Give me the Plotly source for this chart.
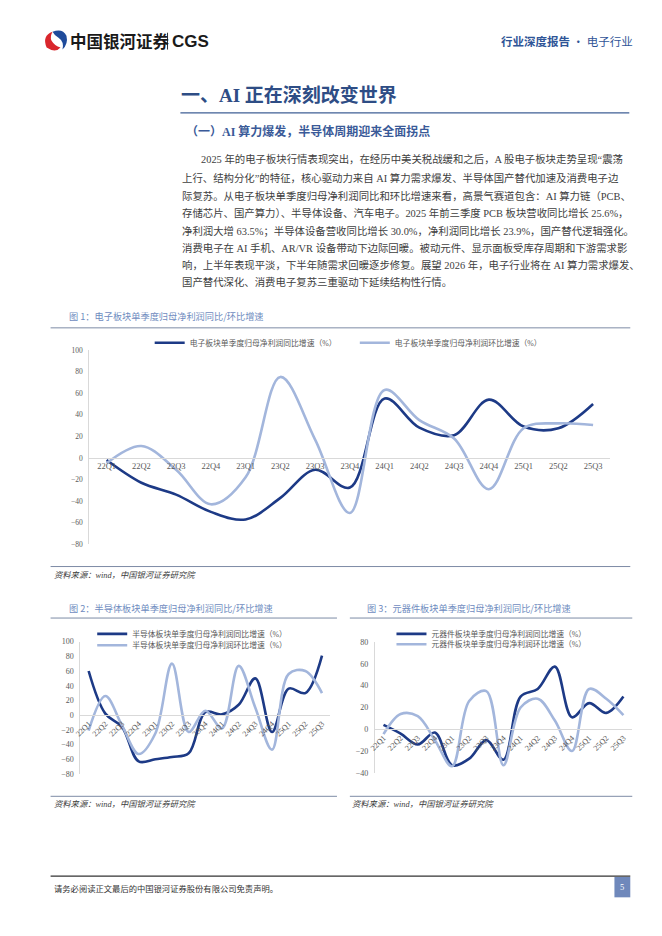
import plotly.graph_objects as go

W, H = 662, 936


def fx(x):
    return x / W


def fy(y):
    return 1 - y / H


quarters = ["22Q1", "22Q2", "22Q3", "22Q4", "23Q1", "23Q2", "23Q3", "23Q4",
            "24Q1", "24Q2", "24Q3", "24Q4", "25Q1", "25Q2", "25Q3"]

elec_yoy = [-2, -23, -34, -50, -57, -37, -11, -27.5, 55, 28, 21, 54, 29, 27.5, 50]
elec_qoq = [-5, 11, -11, -43, -18, 75, 17, -51, 63, 35, 18, -29, 27.5, 32, 30.5]
semi_yoy = [60, 2, -16, -63, -60, -57, -52, 4, 1, 14, 50, -23, 36, 30, 81]
semi_qoq = [-21, 26, -14, -53, -25, 70, -23, 6, -18, 67, 10, -47, 56, 60, 30]
comp_yoy = [4, -4, -14, -3, -33, -27, -10, -28, 30, 37, 57.5, 11, 24, 15, 30]
comp_qoq = [-4.5, 14, 12, -10, -34, 26, 35, -33, 20, 28, 8, -20, 37, 28, 13]

names1 = ["电子板块单季度归母净利润同比增速（%）", "电子板块单季度归母净利润环比增速（%）"]
names2 = ["半导体板块单季度归母净利润同比增速（%）", "半导体板块单季度归母净利润环比增速（%）"]
names3 = ["元器件板块单季度归母净利润同比增速（%）", "元器件板块单季度归母净利润环比增速（%）"]

para = [
    "2025 年的电子板块行情表现突出，在经历中美关税战缓和之后，A 股电子板块走势呈现“震荡",
    "上行、结构分化”的特征，核心驱动力来自 AI 算力需求爆发、半导体国产替代加速及消费电子边",
    "际复苏。从电子板块单季度归母净利润同比和环比增速来看，高景气赛道包含：AI 算力链（PCB、",
    "存储芯片、国产算力）、半导体设备、汽车电子。2025 年前三季度 PCB 板块营收同比增长 25.6%，",
    "净利润大增 63.5%；半导体设备营收同比增长 30.0%，净利润同比增长 23.9%，国产替代逻辑强化。",
    "消费电子在 AI 手机、AR/VR 设备带动下边际回暖。被动元件、显示面板受库存周期和下游需求影",
    "响，上半年表现平淡，下半年随需求回暖逐步修复。展望 2026 年，电子行业将在 AI 算力需求爆发、",
    "国产替代深化、消费电子复苏三重驱动下延续结构性行情。",
]

DARK = "#1d3a86"
LIGHT = "#a3b6dc"
SERIF = "Liberation Serif, Noto Sans CJK SC"
CJK = "Noto Sans CJK SC"
TICK = "#595959"

fig = go.Figure()

series = [
    (elec_yoy, elec_qoq, names1, "x", "y", "legend", "legend4"),
    (semi_yoy, semi_qoq, names2, "x2", "y2", "legend2", "legend5"),
    (comp_yoy, comp_qoq, names3, "x3", "y3", "legend3", "legend6"),
]
for yoy, qoq, nm, xa, ya, lg_a, lg_b in series:
    fig.add_trace(go.Scatter(x=quarters, y=yoy, name=nm[0], mode="lines",
                             line=dict(color=DARK, width=2.6, shape="spline", smoothing=1),
                             xaxis=xa, yaxis=ya, legend=lg_a))
    fig.add_trace(go.Scatter(x=quarters, y=qoq, name=nm[1], mode="lines",
                             line=dict(color=LIGHT, width=2.6, shape="spline", smoothing=1),
                             xaxis=xa, yaxis=ya, legend=lg_b))

# axis geometry (pixels)
charts = [
    # x0, x1, zero_py, px_per_unit, ymin, ymax, dtick, tickangle, xfont, yfont
    (84, 610, 458.3, 1.09, -80, 100, 20, 0, 8.5, 7.5),
    (75, 327.3, 718.0, 0.742, -80, 100, 20, -45, 8, 8),
    (372.3, 631.7, 732.3, 1.10, -40, 80, 20, -45, 8, 8),
]
for i, (x0, x1, z, k, ymin, ymax, dt, ang, xf, yf) in enumerate(charts):
    sfx = "" if i == 0 else str(i + 1)
    ytop = z - k * ymax
    ybot = z - k * ymin
    fig.layout["xaxis" + sfx] = dict(
        domain=[fx(x0), fx(x1)], range=[-0.5, 14.5], type="category",
        anchor="free", position=fy(z), showline=True, linecolor="#d9d9d9", linewidth=1,
        showgrid=False, zeroline=False, ticks="", tickangle=ang,
        tickfont=dict(family=SERIF, size=xf, color=TICK), fixedrange=True)
    fig.layout["yaxis" + sfx] = dict(
        domain=[fy(ybot), fy(ytop)], range=[ymin, ymax], dtick=dt,
        anchor="x" + sfx, showline=True, linecolor="#d9d9d9", linewidth=1,
        showgrid=False, zeroline=False, ticks="", ticklabelstandoff=4,
        tickfont=dict(family=SERIF, size=yf, color=TICK), fixedrange=True)

legfont = dict(family=SERIF, size=7.8, color=TICK)


def leg(x, y):
    return dict(orientation="v", x=fx(x), y=fy(y), xanchor="left", yanchor="middle",
                font=legfont, bgcolor="rgba(0,0,0,0)", itemwidth=30, tracegroupgap=0)


fig.update_layout(
    legend=leg(145, 342),
    legend4=leg(352, 342),
    legend2=leg(87, 636),
    legend5=leg(87, 647.5),
    legend3=leg(389, 636),
    legend6=leg(389, 646.5),
)

ann = []


def text(x, y, s, size, color, family=CJK, anchor="left"):
    ann.append(dict(x=fx(x), y=fy(y), xref="paper", yref="paper", text=s, showarrow=False,
                    xanchor=anchor, yanchor="middle", font=dict(size=size, color=color, family=family)))


# header
text(63, 37, "<b>中国银河证券</b>", 16.5, "#1a1a1a")
text(166, 37.5, "<b>CGS</b>", 17, "#1a1a1a", family="Liberation Sans")
text(498, 37, "<b>行业深度报告</b> · 电子行业", 11.5, "#2f5597")

# title / subtitle
BLUE = "#2e4d85"
text(175, 92, "<b>一、AI 正在深刻改变世界</b>", 19, BLUE, family="Liberation Serif, " + CJK)
text(180, 129, "<b>（一）AI 算力爆发，半导体周期迎来全面拐点</b>", 12, "#3a5a98",
     family="Liberation Serif, " + CJK)

# paragraph
line_y = [157, 176, 194, 211.5, 229, 246.5, 264, 281]
for j, (s, yy) in enumerate(zip(para, line_y)):
    text(195 if j == 0 else 176, yy, s, 10.4, "#404040", family="Liberation Serif, " + CJK)

# figure titles & sources
FIGC = "#6f8cc0"
text(62, 315, "图 1：电子板块单季度归母净利润同比/环比增速", 9.2, FIGC)
text(62, 610, "图 2：半导体板块单季度归母净利润同比/环比增速", 9.2, FIGC)
text(362, 610, "图 3：元器件板块单季度归母净利润同比/环比增速", 9.2, FIGC)
SRC = "<i>资料来源：wind，中国银河证券研究院</i>"
text(46, 577, SRC, 8.3, "#404040", family="Liberation Serif, " + CJK)
text(46, 808, SRC, 8.3, "#404040", family="Liberation Serif, " + CJK)
text(347, 808, SRC, 8.3, "#404040", family="Liberation Serif, " + CJK)

# footer
text(46, 893, "请务必阅读正文最后的中国银河证券股份有限公司免责声明。", 8.3, "#333333")
text(622, 892, "5", 8.5, "white", family="Liberation Serif", anchor="center")

fig.update_layout(annotations=ann)

shapes = []


def hline(x0, x1, y, color, w=1):
    shapes.append(dict(type="line", xref="paper", yref="paper", x0=fx(x0), x1=fx(x1),
                       y0=fy(y), y1=fy(y), line=dict(color=color, width=w)))


LINEC = "#7d8ba6"
hline(176, 629, 110, "#3f5f95", 1.2)
hline(45, 630, 327, LINEC)
hline(45, 630, 568, LINEC)
hline(45, 334, 620, LINEC)
hline(347, 632, 620, LINEC)
hline(45, 334, 800, LINEC)
hline(347, 632, 800, LINEC)
hline(45, 630, 880.5, "#333333", 1.2)
# divider in logo text
shapes.append(dict(type="line", xref="paper", yref="paper", x0=fx(163), x1=fx(163),
                   y0=fy(29), y1=fy(46), line=dict(color="#333333", width=1)))
# page number box
shapes.append(dict(type="rect", xref="paper", yref="paper", x0=fx(614), x1=fx(630),
                   y0=fy(902), y1=fy(881.5), fillcolor="#6f88bb", line=dict(width=0), layer="below"))


def ppath(pts):
    out = []
    for p in pts:
        if isinstance(p, str):
            out.append(p)
        else:
            out.append("%.5f,%.5f" % (fx(p[0]), fy(p[1])))
    return " ".join(out)


# logo (approximation)
red_path = ppath(["M", (41, 44), "Q", (36, 32), (47, 28), "Q", (44, 33), (46, 37),
                  "Q", (49, 42), (55, 44), "Q", (50, 50), (41, 44), "Z"])
blue_path = ppath(["M", (47, 28), "Q", (57, 24), (61, 32), "Q", (63, 40), (57, 46),
                   "Q", (59, 38), (53, 34), "Q", (49, 32), (47, 28), "Z"])
shapes.append(dict(type="path", xref="paper", yref="paper", path=red_path,
                   fillcolor="#d9262c", line=dict(width=0)))
shapes.append(dict(type="path", xref="paper", yref="paper", path=blue_path,
                   fillcolor="#1f4b9b", line=dict(width=0)))
fig.update_layout(shapes=shapes)

fig.update_layout(width=W, height=H, margin=dict(l=0, r=0, t=0, b=0),
                  paper_bgcolor="white", plot_bgcolor="rgba(0,0,0,0)",
                  showlegend=True, font=dict(family=SERIF))

fig.write_html("out.html", post_script="document.body.style.margin='0';",
               config={"displayModeBar": False})
